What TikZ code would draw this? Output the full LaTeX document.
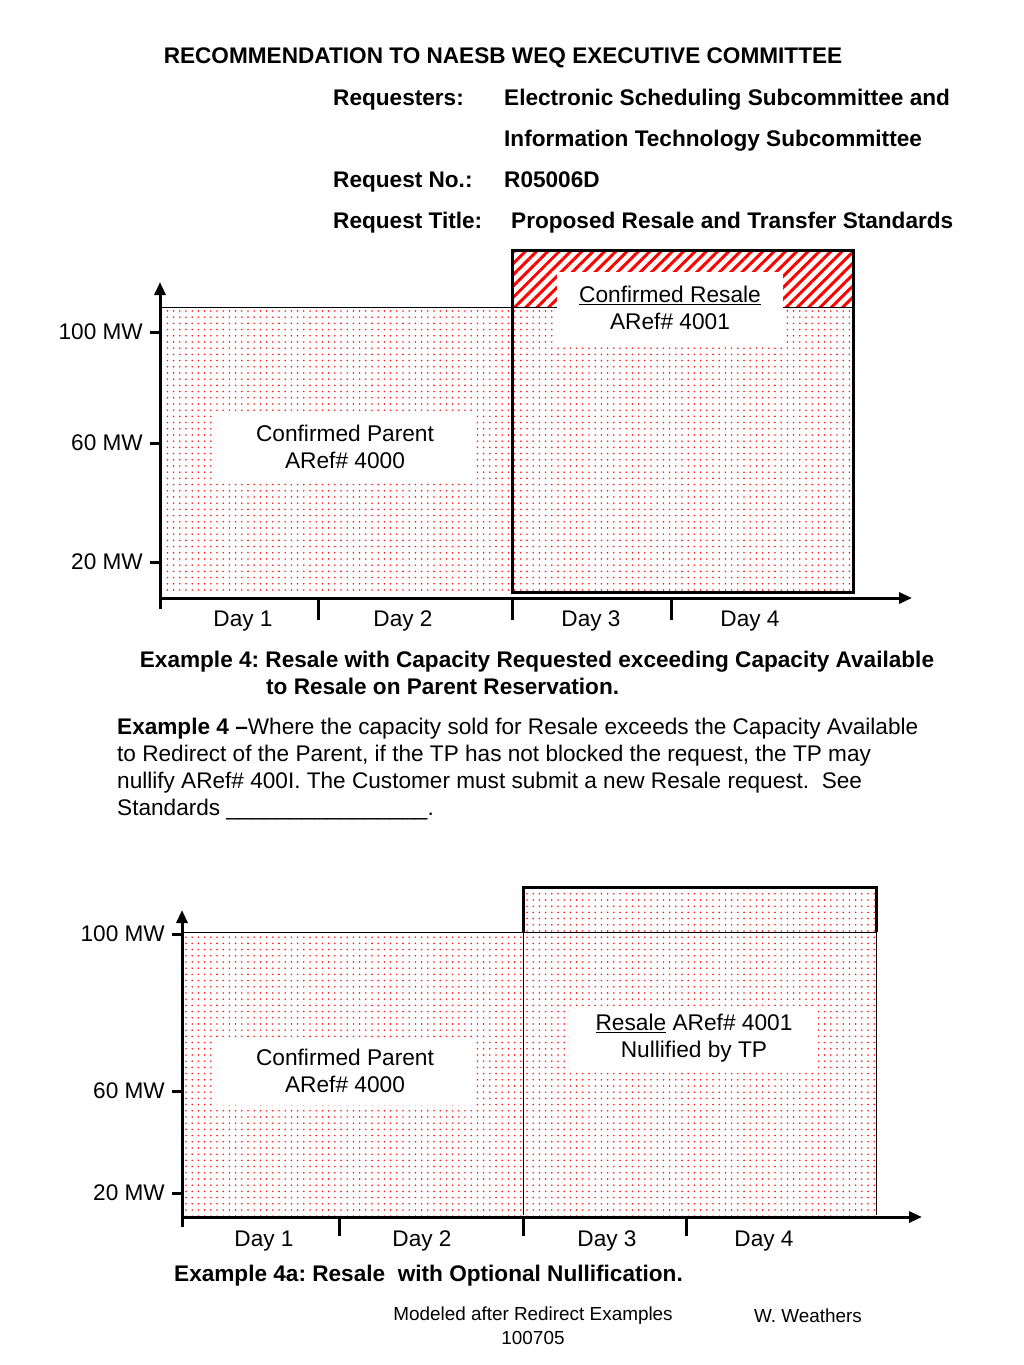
\documentclass[tikz,border=0pt]{standalone}
\usepackage{fontspec}
\setmainfont{Liberation Sans}
\usetikzlibrary{arrows.meta,patterns.meta}
\frenchspacing

\tikzset{
  axis/.style={line width=3pt, -{Triangle[length=13pt,width=11pt]}},
  tickmark/.style={line width=3pt},
  thickframe/.style={line width=3pt},
  dotfill/.style={pattern={Dots[distance=6.2pt,radius=0.9pt]}, pattern color=red!90},
  hatchfill/.style={pattern={Lines[angle=45,distance=8pt,line width=3pt]}, pattern color=red},
  labelbox/.style={fill=white, inner sep=0pt, align=center, font=\fontsize{22.7}{27}\selectfont},
  hdr/.style={anchor=base west, inner sep=0pt, font=\fontsize{22.6}{25}\selectfont\bfseries},
  txt/.style={anchor=base west, inner sep=0pt, font=\fontsize{22.6}{27}\selectfont},
  mwlabel/.style={anchor=east, inner sep=0pt, font=\fontsize{22.6}{25}\selectfont},
  daylabel/.style={inner sep=0pt, font=\fontsize{22.6}{25}\selectfont},
  foot/.style={inner sep=0pt, font=\fontsize{18.9}{22}\selectfont},
}

\begin{document}
\begin{tikzpicture}[x=1pt, y=-1pt, line join=miter]
  \useasboundingbox (0,0) rectangle (1024,1365);

  % --- header ---
  \node[hdr, anchor=base] (title) at (503,63) {RECOMMENDATION TO NAESB WEQ EXECUTIVE COMMITTEE};
  \node[hdr] (reqA) at (333,105) {Requesters:};
  \node[hdr] (reqB) at (504,105) {Electronic Scheduling Subcommittee and};
  \node[hdr] (reqC) at (504,146) {Information Technology Subcommittee};
  \node[hdr] (noA) at (333,187) {Request No.:};
  \node[hdr] (noB) at (504,187) {R05006D};
  \node[hdr] (ttlA) at (333,228) {Request Title:};
  \node[hdr] (ttlB) at (511,228) {Proposed Resale and Transfer Standards};

  % --- example 4: areas ---
  \fill[dotfill] (160,307) rectangle (512,592);
  \fill[dotfill] (512,307) rectangle (853,592);
  \fill[hatchfill] (512,250) rectangle (853,307);
  \draw (160,307) -- (853,307);
  \node[labelbox, minimum width=260pt, minimum height=66pt] (parentA) at (345,447) {Confirmed Parent\\ARef\# 4000};
  \node[labelbox, minimum width=226pt, minimum height=71pt] (resaleA) at (670,307.5) {\underline{Confirmed Resale}\\ARef\# 4001};
  \draw[thickframe] (512,250) rectangle (853,592);

  % --- example 4: axes ---
  \draw[axis] (160,609) -- (160,282);
  \draw[axis] (160,598) -- (912,598);
  \foreach \x in {318,512,671}
    \draw[tickmark] (\x,598) -- (\x,620);
  \foreach \y/\mw in {332/100,443/60,562/20} {
    \draw[tickmark] (150,\y) -- (160,\y);
    \node[mwlabel] (mwA\mw) at (143,\y) {\mw\ MW};
  }
  \foreach \x/\d in {243/1,403/2,591/3,750/4}
    \node[daylabel] (dayA\d) at (\x,621) {Day \d};

  % --- example 4: caption and text ---
  \node[hdr, anchor=base] (capA) at (537,667) {Example 4: Resale with Capacity Requested exceeding Capacity Available};
  \node[hdr] (capB) at (266,694) {to Resale on Parent Reservation.};
  \node[txt, anchor=north west, align=left] (note) at (117,718)
    {\textbf{Example 4 --}Where the capacity sold for Resale exceeds the Capacity Available\\
     to Redirect of the Parent, if the TP has not blocked the request, the TP may\\
     nullify ARef\# 400I. The Customer must submit a new Resale request.\ \ See\\
     Standards \_\_\_\_\_\_\_\_\_\_\_\_\_\_\_\_.};

  % --- example 4a: areas ---
  \fill[dotfill] (182,932) rectangle (876,1215);
  \fill[dotfill] (523,887) rectangle (876,932);
  \draw (182,932) -- (876,932);
  \draw (523,932) -- (523,1215);
  \draw (876,932) -- (876,1215);
  \node[labelbox, minimum width=260pt, minimum height=67pt] (parentB) at (345,1071) {Confirmed Parent\\ARef\# 4000};
  \node[labelbox, minimum width=248pt, minimum height=65pt] (resaleB) at (694,1038) {\underline{Resale} ARef\# 4001\\Nullified by TP};
  \draw[thickframe] (523,932) -- (523,887) -- (876,887) -- (876,932);

  % --- example 4a: axes ---
  \draw[axis] (182,1227) -- (182,910);
  \draw[axis] (182,1217) -- (922,1217);
  \foreach \x in {339,523,686}
    \draw[tickmark] (\x,1217) -- (\x,1236);
  \foreach \y/\mw in {934/100,1091/60,1193/20} {
    \draw[tickmark] (172,\y) -- (182,\y);
    \node[mwlabel] (mwB\mw) at (165,\y) {\mw\ MW};
  }
  \foreach \x/\d in {264/1,422/2,607/3,764/4}
    \node[daylabel] (dayB\d) at (\x,1241) {Day \d};

  \node[hdr] (capC) at (174,1281) {Example 4a: Resale\ \ with Optional Nullification.};

  % --- footer ---
  \node[foot] (footA) at (533,1316) {Modeled after Redirect Examples};
  \node[foot] (footB) at (533,1338) {100705};
  \node[foot] (footC) at (808,1316) {W. Weathers};
\end{tikzpicture}
\end{document}
